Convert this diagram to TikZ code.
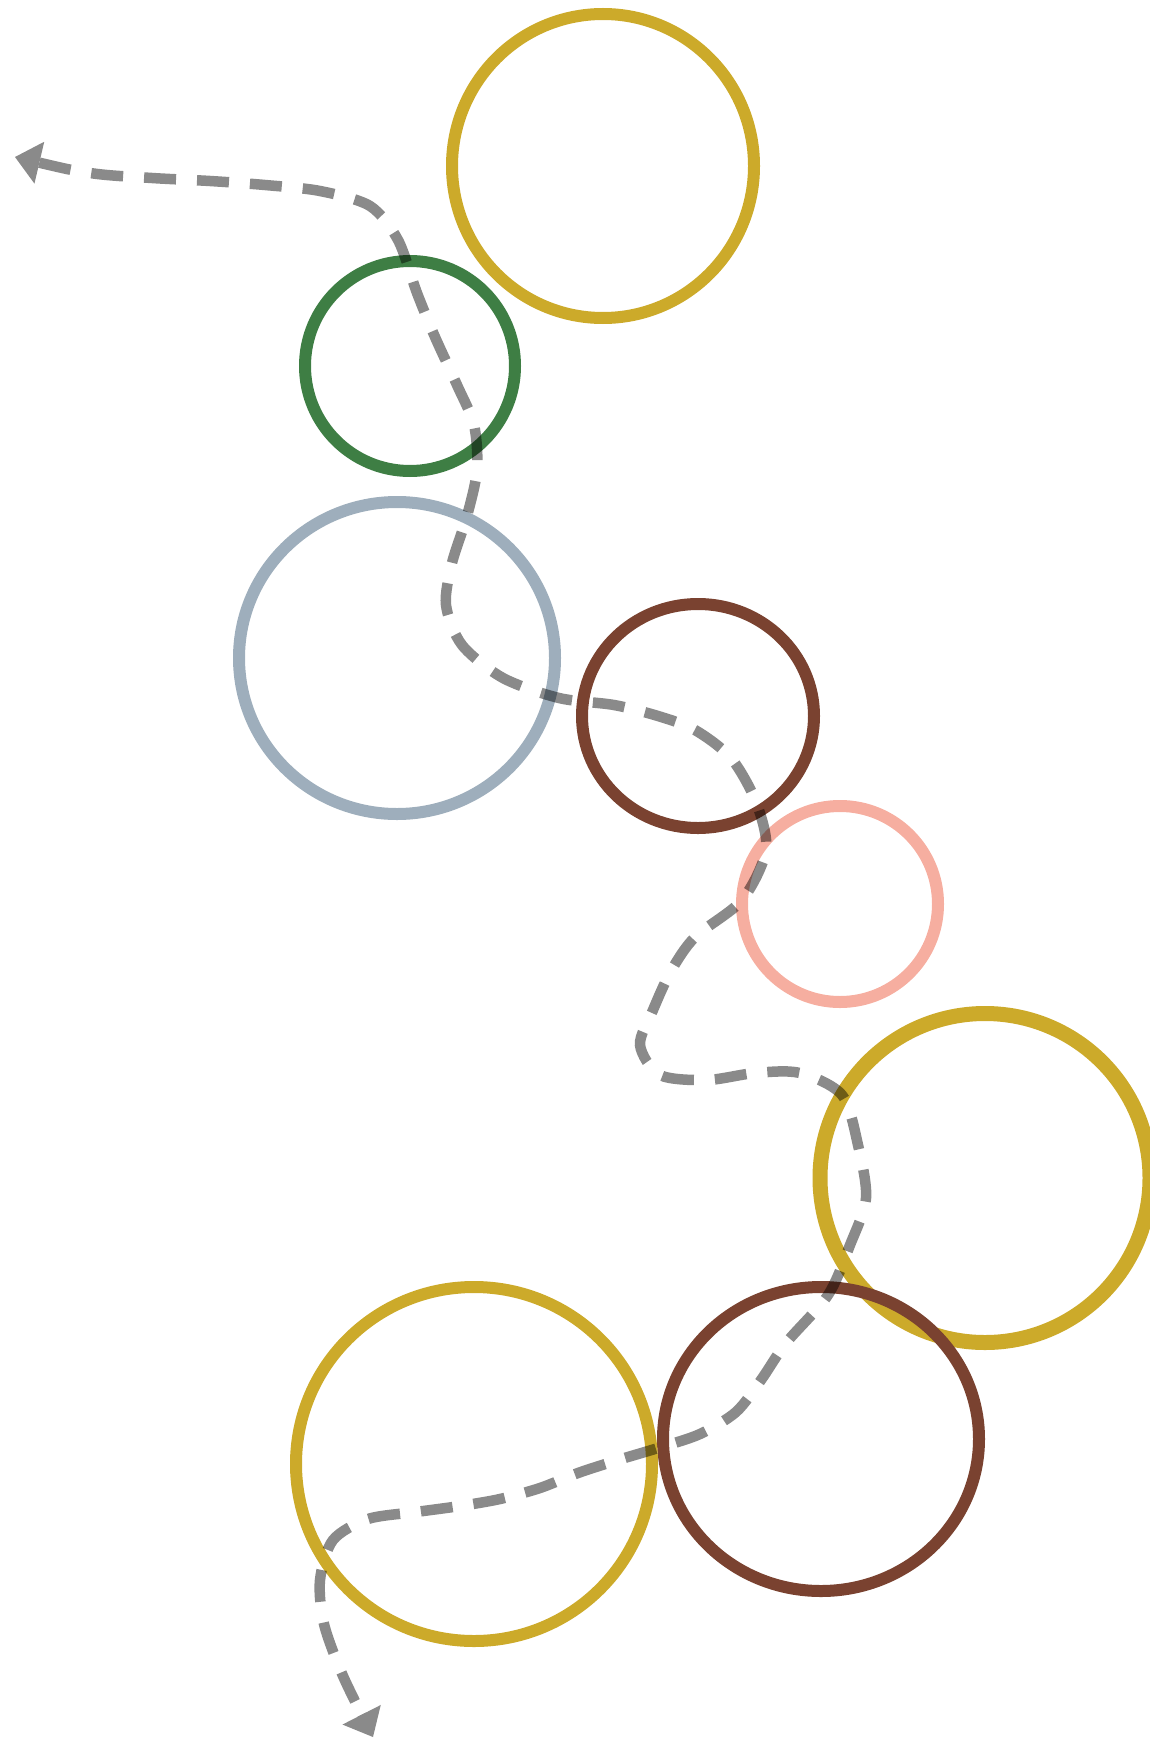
\documentclass[tikz,border=0pt]{standalone}
\usetikzlibrary{arrows.meta,shapes.geometric}
\definecolor{cgold}{RGB}{204,170,42}
\definecolor{cgreen}{RGB}{62,126,68}
\definecolor{cblue}{RGB}{158,174,188}
\definecolor{cbrown}{RGB}{122,66,48}
\definecolor{csalmon}{RGB}{246,174,160}
\begin{document}
\begin{tikzpicture}[x=1pt,y=-1pt,
  ring/.style={draw, ellipse, inner sep=0pt, line width=12pt},
  tipend/.tip={Triangle[length=25pt,width=43pt,line width=0pt]},
  route/.style={draw=black, line width=10.5pt,
    dash pattern=on 32pt off 21pt, tipend-tipend}]
\useasboundingbox (0,0) rectangle (1150,1739);
\node[ring, draw=cgold, minimum width=302pt, minimum height=304pt] (g1) at (603,166) {};
\node[ring, draw=cgreen, minimum width=210pt, minimum height=210pt] (gr) at (410,366) {};
\node[ring, draw=cblue, minimum width=316pt, minimum height=312pt] (bl) at (397,658) {};
\node[ring, draw=cbrown, minimum width=232pt, minimum height=224pt] (br1) at (698,716) {};
\node[ring, draw=csalmon, minimum width=196pt, minimum height=196pt] (sa) at (840,904) {};
\node[ring, draw=cgold, line width=15pt, minimum width=330pt, minimum height=329pt] (g2) at (985,1178) {};
\node[ring, draw=cbrown, minimum width=316pt, minimum height=304pt] (br2) at (821,1439) {};
\node[ring, draw=cgold, minimum width=356pt, minimum height=354pt] (g3) at (474,1464) {};
\coordinate (s) at (15,157);
\coordinate (e) at (373,1737);
\begin{scope}[transparency group, opacity=0.46]
\draw[route] plot[smooth, tension=0.5] coordinates {
 (s) (90,173) (152,178) (210,181) (265,185) (320,191) (370,206) (398,240)
 (417,293) (435,337) (457,385) (474,425) (477,470) (467,516) (452,563)
 (446,605) (462,645) (503,678) (559,698) (614,705) (658,716) (695,730)
 (731,758) (756,802) (766,850) (742,900) (695,937) (671,971) (653,1010)
 (640,1045) (660,1075) (707,1080) (755,1073) (800,1073) (842,1095)
 (858,1145) (866,1198) (850,1245) (828,1295) (786,1343) (761,1380)
 (736,1412) (700,1434) (658,1448) (618,1460) (578,1473) (540,1488)
 (500,1499) (460,1506) (416,1512) (368,1519) (333,1540) (320,1580)
 (324,1624) (343,1676) (e)};
\end{scope}
\end{tikzpicture}
\end{document}
